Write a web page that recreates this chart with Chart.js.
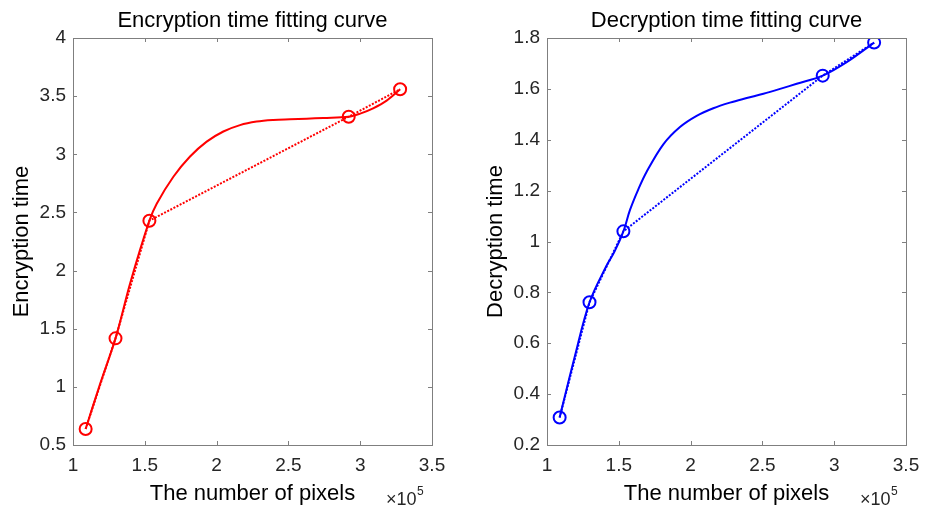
<!DOCTYPE html>
<html>
<head>
<meta charset="utf-8">
<script src="https://cdn.jsdelivr.net/npm/chart.js@4"></script>
<style>
  html, body { margin: 0; padding: 0; background: #fff; }
  #wrap { position: relative; width: 935px; height: 507px; }
  canvas { position: absolute; top: 0; }
  #encChart { left: 0; }
  #decChart { left: 467px; }
</style>
</head>
<body>
<div id="wrap">
  <canvas id="encChart" width="467" height="507"></canvas>
  <canvas id="decChart" width="468" height="507"></canvas>
</div>
<script>
// measured points (x in units of 10^5 pixels)
const pixelCounts = [1.088, 1.296, 1.532, 2.92, 3.278];
const encTimes = [0.638, 1.417, 2.429, 3.323, 3.559];
const decTimes = [0.308, 0.761, 1.040, 1.652, 1.782];

// fitted curves
const encFitX = [1.088, 1.19, 1.296, 1.40, 1.532, 1.583, 1.699, 1.815, 1.931, 2.047, 2.163, 2.279, 2.395, 2.511, 2.627, 2.743, 2.92, 3.0, 3.09, 3.184, 3.278];
const encFitY = [0.638, 1.03, 1.417, 1.90, 2.429, 2.575, 2.807, 2.981, 3.109, 3.196, 3.251, 3.281, 3.295, 3.301, 3.306, 3.312, 3.323, 3.350, 3.395, 3.461, 3.559];
const decFitX = [1.088, 1.19, 1.296, 1.41, 1.47, 1.532, 1.578, 1.636, 1.694, 1.810, 1.926, 2.042, 2.158, 2.274, 2.391, 2.507, 2.623, 2.739, 2.92, 3.087, 3.278];
const decFitY = [0.308, 0.54, 0.761, 0.90, 0.96, 1.040, 1.124, 1.205, 1.274, 1.382, 1.450, 1.494, 1.524, 1.546, 1.564, 1.581, 1.600, 1.620, 1.652, 1.705, 1.782];

// axis ranges / tick steps
const xRange = [1, 3.5, 0.5];
const encYRange = [0.5, 4, 0.5];
const decYRange = [0.2, 1.8, 0.2];

Chart.defaults.font.family = "'Liberation Sans', Arial, Helvetica, sans-serif";

const toPoints = (xs, ys) => xs.map((x, i) => ({ x: x, y: ys[i] }));
const tickText = v => String(Number(v.toFixed(2)));

// MATLAB style box with inward ticks, plus the x10^5 multiplier
const matlabBox = {
  id: 'matlabBox',
  afterDatasetsDraw(chart) {
    const { ctx, chartArea: a, scales: { x, y } } = chart;
    const len = 4;
    ctx.save();
    ctx.strokeStyle = '#7f7f7f';
    ctx.lineWidth = 1;
    ctx.strokeRect(Math.round(a.left) + 0.5, Math.round(a.top) + 0.5,
      Math.round(a.right - a.left), Math.round(a.bottom - a.top));
    ctx.beginPath();
    x.ticks.forEach(t => {
      const px = Math.round(x.getPixelForValue(t.value)) + 0.5;
      ctx.moveTo(px, a.bottom); ctx.lineTo(px, a.bottom - len);
      ctx.moveTo(px, a.top); ctx.lineTo(px, a.top + len);
    });
    y.ticks.forEach(t => {
      const py = Math.round(y.getPixelForValue(t.value)) + 0.5;
      ctx.moveTo(a.left, py); ctx.lineTo(a.left + len, py);
      ctx.moveTo(a.right, py); ctx.lineTo(a.right - len, py);
    });
    ctx.stroke();

    ctx.fillStyle = '#262626';
    ctx.textBaseline = 'alphabetic';
    ctx.textAlign = 'left';
    ctx.font = "18px 'Liberation Sans', Arial, sans-serif";
    const mx = a.right - 46;
    ctx.fillText('\u00d710', mx, 505);
    const w = ctx.measureText('\u00d710').width;
    ctx.font = "12px 'Liberation Sans', Arial, sans-serif";
    ctx.fillText('5', mx + w + 0.5, 495);
    ctx.restore();
  }
};

function buildChart(id, opts) {
  const ctx = document.getElementById(id).getContext('2d');
  return new Chart(ctx, {
    type: 'scatter',
    data: {
      datasets: [
        {
          label: 'fit',
          data: toPoints(opts.fitX, opts.fitY),
          showLine: true,
          borderColor: opts.color,
          borderWidth: 2,
          pointRadius: 0,
          tension: 0.35
        },
        {
          label: 'measured',
          data: toPoints(pixelCounts, opts.times),
          showLine: true,
          borderColor: opts.color,
          borderWidth: 2,
          borderDash: [2, 1.5],
          pointRadius: 6,
          pointBorderWidth: 2,
          pointBorderColor: opts.color,
          pointBackgroundColor: 'rgba(0,0,0,0)'
        }
      ]
    },
    options: {
      responsive: false,
      animation: false,
      layout: { padding: { left: 0, right: opts.rightPad, top: 0, bottom: 0 } },
      plugins: {
        legend: { display: false },
        tooltip: { enabled: false },
        title: {
          display: true,
          text: opts.title,
          fullSize: false,
          color: '#000',
          font: { size: 22, weight: 'normal' },
          padding: { top: 8, bottom: 3.6 }
        }
      },
      scales: {
        x: {
          type: 'linear',
          min: xRange[0],
          max: xRange[1],
          grid: { display: false, drawTicks: false },
          border: { display: false },
          ticks: { stepSize: xRange[2], padding: 9, color: '#262626', font: { size: 19 }, callback: tickText },
          title: {
            display: true,
            text: 'The number of pixels',
            color: '#000',
            font: { size: 22 },
            padding: { top: 0, bottom: 0 }
          },
          afterFit(s) { s.height = 62; }
        },
        y: {
          min: opts.yRange[0],
          max: opts.yRange[1],
          grid: { display: false, drawTicks: false },
          border: { display: false },
          ticks: { stepSize: opts.yRange[2], padding: 7, color: '#262626', font: { size: 19 }, callback: tickText },
          title: {
            display: true,
            text: opts.yTitle,
            color: '#000',
            font: { size: 22 },
            padding: { top: opts.yTitlePad, bottom: 0 }
          },
          afterFit(s) { s.width = opts.yWidth; }
        }
      }
    },
    plugins: [matlabBox]
  });
}

buildChart('encChart', {
  title: 'Encryption time fitting curve',
  yTitle: 'Encryption time',
  color: '#ff0000',
  fitX: encFitX, fitY: encFitY,
  times: encTimes,
  yRange: encYRange,
  yWidth: 73, yTitlePad: 8.8, rightPad: 35
});

buildChart('decChart', {
  title: 'Decryption time fitting curve',
  yTitle: 'Decryption time',
  color: '#0000ff',
  fitX: decFitX, fitY: decFitY,
  times: decTimes,
  yRange: decYRange,
  yWidth: 80, yTitlePad: 15.8, rightPad: 29
});
</script>
</body>
</html>
